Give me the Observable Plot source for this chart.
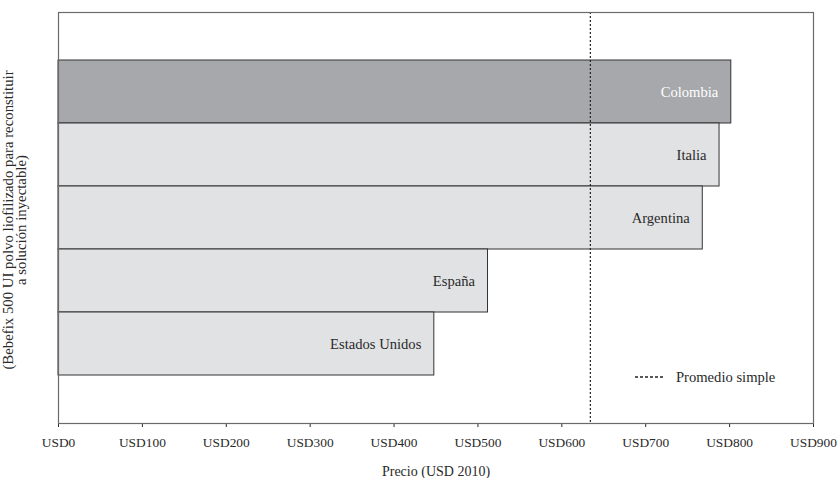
<!DOCTYPE html>
<html>
<head>
<meta charset="utf-8">
<script src="https://cdn.jsdelivr.net/npm/d3@7"></script>
<script src="https://cdn.jsdelivr.net/npm/@observablehq/plot@0.6"></script>
<style>
  html, body { margin: 0; padding: 0; background: #fff; }
  #wrap { position: relative; width: 838px; height: 478px; font-family: "Liberation Serif", serif; }
  #legend { position: absolute; display: flex; align-items: center; font-size: 14.6px; color: #2a2a2a; white-space: nowrap; }
  #legend svg { margin-right: 11px; }
</style>
</head>
<body>
<div id="wrap"></div>
<script>
const countries = ["Colombia", "Italia", "Argentina", "España", "Estados Unidos"];
const prices = [802, 788, 768, 512, 448];
const highlighted = ["Colombia"];
const averagePrice = [634];
const xTicks = [0, 100, 200, 300, 400, 500, 600, 700, 800, 900];
const yLabel = "(Bebefix 500 UI polvo liofilizado para reconstituir\na solución inyectable)";
const xLabel = "Precio (USD 2010)";
const legendLabel = "Promedio simple";

const data = countries.map((c, i) => ({country: c, price: prices[i], hi: highlighted.includes(c)}));

const W = 838, H = 478;
const mL = 58, mR = 25, mT = 12, mB = 55;

const chart = Plot.plot({
  width: W,
  height: H,
  marginLeft: mL,
  marginRight: mR,
  marginTop: mT,
  marginBottom: mB,
  style: {fontFamily: "Liberation Serif, serif", fontSize: "13.4px", color: "#2a2a2a", background: "#fff"},
  x: {domain: [0, 900], ticks: xTicks, tickFormat: d => "USD" + d, tickSize: 4, tickPadding: 10, label: null},
  y: {type: "band", domain: countries, paddingInner: 0, paddingOuter: 0.75, axis: null},
  marks: [
    Plot.barX(data, {x: "price", y: "country", fill: d => d.hi ? "#a7a8ab" : "#e1e2e4", stroke: "#333", strokeWidth: 1}),
    Plot.text(data, {x: "price", y: "country", text: "country", textAnchor: "end", dx: -13, fill: d => d.hi ? "#ffffff" : "#2a2a2a", fontSize: 14.6}),
    Plot.ruleX(averagePrice, {stroke: "#222", strokeWidth: 1.2, strokeDasharray: "2,2"}),
    Plot.frame({stroke: "#6a6a6a", strokeWidth: 1.2}),
    Plot.text([xLabel], {frameAnchor: "bottom", dy: 48, lineAnchor: "middle", fontSize: 14, fill: "#2a2a2a"}),
    Plot.text([yLabel], {frameAnchor: "left", rotate: -90, dx: -43, dy: 2, textAnchor: "middle", lineAnchor: "middle", fontSize: 14.8, fill: "#2a2a2a", lineHeight: 0.88})
  ]
});

const wrap = document.getElementById("wrap");
wrap.appendChild(chart);

// legend overlay
const legend = document.createElement("div");
legend.id = "legend";
legend.innerHTML = '<svg width="30" height="4"><line x1="0" x2="30" y1="2" y2="2" stroke="#222" stroke-width="1.3" stroke-dasharray="3,2"/></svg><span>' + legendLabel + '</span>';
wrap.appendChild(legend);
legend.style.left = "635px";
legend.style.top = (H - mB - 46 - 10) + "px";
legend.style.height = "20px";
</script>
</body>
</html>
